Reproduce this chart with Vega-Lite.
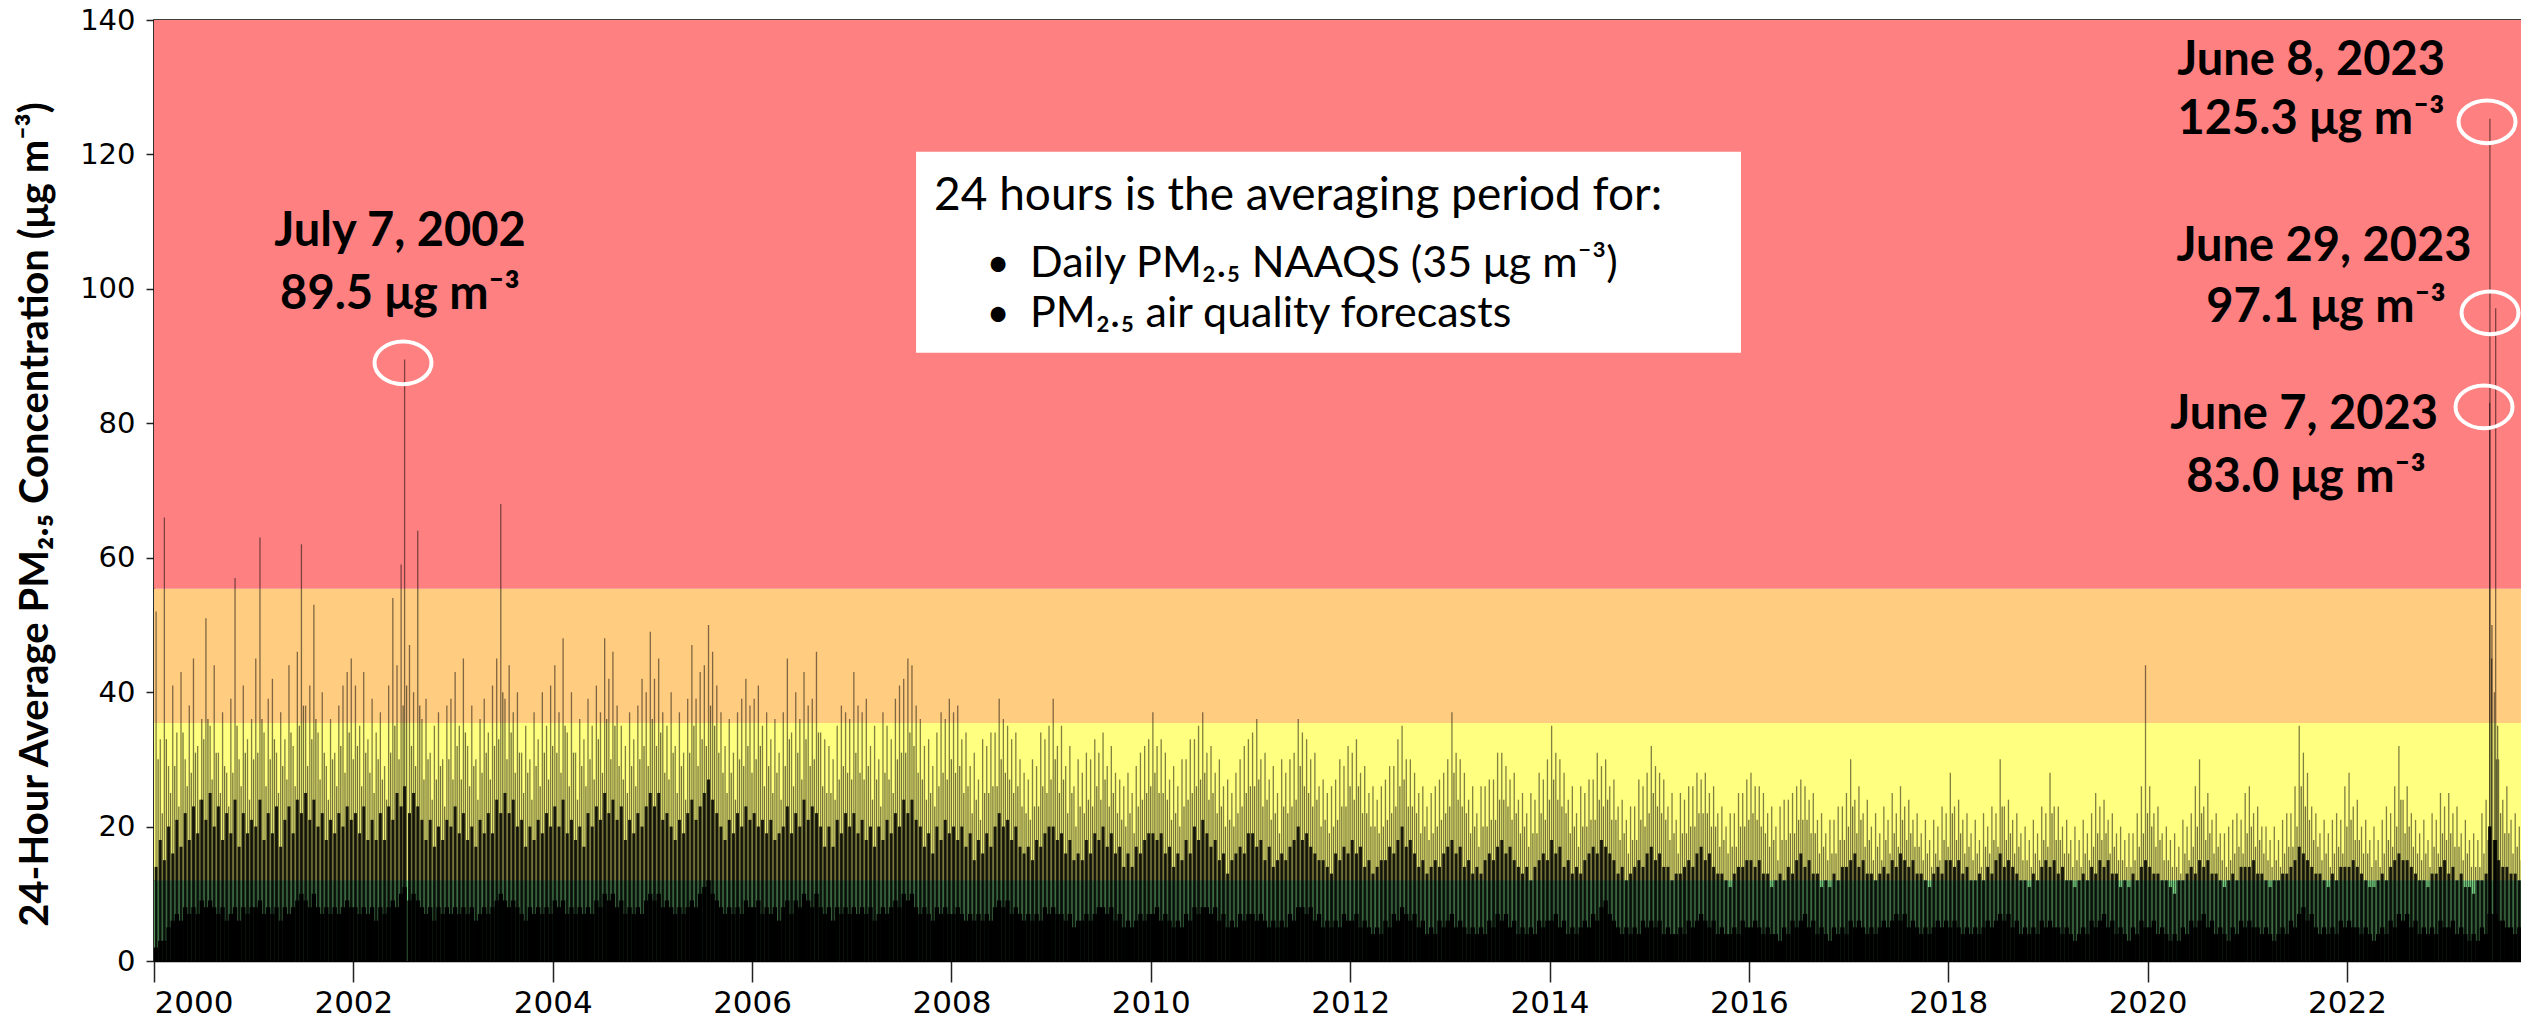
{
  "$schema": "https://vega.github.io/schema/vega-lite/v6.json",
  "width": 2369,
  "height": 941,
  "autosize": "none",
  "padding": {"left": 154, "top": 20, "right": 0, "bottom": 64},
  "background": "white",
  "config": {
    "view": {"stroke": "black", "strokeWidth": 1.5},
    "axisX": {"grid": false, "ticks": true, "tickSize": 21, "tickWidth": 1.5, "tickColor": "#222", "domainColor": "black", "domainWidth": 1.5,
      "labelFont": "DejaVu Sans", "labelFontSize": 31, "labelColor": "black", "labelPadding": 6, "labelBaseline": "top"},
    "axisY": {"grid": false, "ticks": true, "tickSize": 8, "tickWidth": 1.5, "tickColor": "#222", "domainColor": "black", "domainWidth": 1.5,
      "labelFont": "DejaVu Sans", "labelFontSize": 29, "labelColor": "black", "labelPadding": 11,
      "titleFont": "Lato", "titleFontWeight": "bold", "titleFontSize": 40, "titleColor": "black"}
  },
  "datasets": {
    "bands": [
      {"cat": "Good", "lo": 0, "hi": 12},
      {"cat": "Moderate", "lo": 12, "hi": 35.4},
      {"cat": "USG", "lo": 35.4, "hi": 55.4},
      {"cat": "Unhealthy", "lo": 55.4, "hi": 140}
    ],
    "pm": [
{"t":2000.021,"l":2,"m":14,"g":30,"h":52},{"t":2000.063,"l":3,"m":18,"g":22,"h":33},{"t":2000.104,"l":3,"m":15,"g":33,"h":66},{"t":2000.146,"l":5,"m":20,"g":25,"h":29},{"t":2000.188,"l":6,"m":16,"g":29,"h":41},{"t":2000.229,"l":7,"m":21,"g":23,"h":34},{"t":2000.271,"l":6,"m":17,"g":34,"h":43},{"t":2000.313,"l":8,"m":22,"g":26,"h":30},{"t":2000.354,"l":7,"m":18,"g":28,"h":38},{"t":2000.396,"l":8,"m":23,"g":31,"h":45},{"t":2000.438,"l":7,"m":19,"g":24,"h":32},{"t":2000.479,"l":9,"m":24,"g":33,"h":36},{"t":2000.521,"l":8,"m":21,"g":36,"h":51},{"t":2000.563,"l":9,"m":25,"g":27,"h":35},{"t":2000.604,"l":8,"m":20,"g":31,"h":44},{"t":2000.646,"l":7,"m":23,"g":25,"h":31},{"t":2000.688,"l":8,"m":18,"g":29,"h":37},{"t":2000.729,"l":6,"m":22,"g":23,"h":28},{"t":2000.771,"l":7,"m":19,"g":28,"h":39},{"t":2000.813,"l":8,"m":24,"g":35,"h":57},{"t":2000.854,"l":6,"m":17,"g":26,"h":30},{"t":2000.896,"l":8,"m":22,"g":31,"h":41},{"t":2000.938,"l":7,"m":19,"g":24,"h":33},{"t":2000.979,"l":8,"m":21,"g":30,"h":36},
{"t":2001.021,"l":8,"m":20,"g":31,"h":45},{"t":2001.063,"l":9,"m":24,"g":36,"h":63},{"t":2001.104,"l":7,"m":18,"g":26,"h":34},{"t":2001.146,"l":8,"m":22,"g":30,"h":39},{"t":2001.188,"l":7,"m":19,"g":33,"h":42},{"t":2001.229,"l":8,"m":23,"g":25,"h":31},{"t":2001.271,"l":6,"m":17,"g":29,"h":37},{"t":2001.313,"l":8,"m":21,"g":27,"h":33},{"t":2001.354,"l":7,"m":23,"g":34,"h":44},{"t":2001.396,"l":8,"m":19,"g":26,"h":32},{"t":2001.438,"l":9,"m":24,"g":35,"h":46},{"t":2001.479,"l":10,"m":22,"g":38,"h":62},{"t":2001.521,"l":9,"m":25,"g":29,"h":38},{"t":2001.563,"l":8,"m":21,"g":33,"h":41},{"t":2001.604,"l":10,"m":24,"g":36,"h":53},{"t":2001.646,"l":8,"m":20,"g":27,"h":34},{"t":2001.688,"l":7,"m":22,"g":31,"h":40},{"t":2001.729,"l":8,"m":18,"g":24,"h":29},{"t":2001.771,"l":7,"m":21,"g":30,"h":36},{"t":2001.813,"l":8,"m":19,"g":26,"h":31},{"t":2001.854,"l":7,"m":22,"g":32,"h":38},{"t":2001.896,"l":8,"m":20,"g":28,"h":41},{"t":2001.938,"l":9,"m":23,"g":34,"h":43},{"t":2001.979,"l":8,"m":21,"g":30,"h":45},
{"t":2002.021,"l":8,"m":22,"g":32,"h":41},{"t":2002.063,"l":7,"m":19,"g":26,"h":35},{"t":2002.104,"l":8,"m":23,"g":31,"h":43},{"t":2002.146,"l":7,"m":18,"g":28,"h":33},{"t":2002.188,"l":8,"m":21,"g":25,"h":39},{"t":2002.229,"l":6,"m":18,"g":30,"h":34},{"t":2002.271,"l":8,"m":22,"g":27,"h":37},{"t":2002.313,"l":7,"m":18,"g":24,"h":29},{"t":2002.354,"l":8,"m":23,"g":31,"h":41},{"t":2002.396,"l":9,"m":21,"g":35,"h":54},{"t":2002.438,"l":8,"m":25,"g":30,"h":44},{"t":2002.479,"l":10,"m":23,"g":38,"h":59},{"t":2002.514,"l":11,"m":26,"g":41,"h":89.5},{"t":2002.563,"l":9,"m":22,"g":32,"h":47},{"t":2002.604,"l":10,"m":25,"g":29,"h":40},{"t":2002.646,"l":9,"m":23,"g":38,"h":64},{"t":2002.688,"l":8,"m":21,"g":27,"h":36},{"t":2002.729,"l":7,"m":18,"g":30,"h":39},{"t":2002.771,"l":8,"m":21,"g":24,"h":31},{"t":2002.813,"l":6,"m":17,"g":27,"h":35},{"t":2002.854,"l":8,"m":20,"g":29,"h":37},{"t":2002.896,"l":7,"m":18,"g":23,"h":30},{"t":2002.938,"l":8,"m":21,"g":30,"h":38},{"t":2002.979,"l":7,"m":20,"g":27,"h":39},
{"t":2003.021,"l":8,"m":23,"g":32,"h":43},{"t":2003.063,"l":7,"m":19,"g":27,"h":35},{"t":2003.104,"l":8,"m":22,"g":34,"h":45},{"t":2003.146,"l":7,"m":18,"g":26,"h":32},{"t":2003.188,"l":8,"m":20,"g":29,"h":38},{"t":2003.229,"l":6,"m":17,"g":24,"h":30},{"t":2003.271,"l":7,"m":21,"g":28,"h":36},{"t":2003.313,"l":8,"m":19,"g":31,"h":39},{"t":2003.354,"l":7,"m":22,"g":27,"h":34},{"t":2003.396,"l":8,"m":19,"g":32,"h":41},{"t":2003.438,"l":9,"m":24,"g":33,"h":45},{"t":2003.479,"l":10,"m":22,"g":40,"h":68},{"t":2003.521,"l":9,"m":25,"g":30,"h":39},{"t":2003.563,"l":8,"m":22,"g":34,"h":44},{"t":2003.604,"l":9,"m":24,"g":28,"h":37},{"t":2003.646,"l":8,"m":20,"g":31,"h":40},{"t":2003.688,"l":7,"m":21,"g":25,"h":31},{"t":2003.729,"l":6,"m":17,"g":28,"h":35},{"t":2003.771,"l":8,"m":20,"g":24,"h":30},{"t":2003.813,"l":7,"m":18,"g":29,"h":37},{"t":2003.854,"l":8,"m":21,"g":26,"h":33},{"t":2003.896,"l":7,"m":19,"g":31,"h":40},{"t":2003.938,"l":8,"m":22,"g":27,"h":35},{"t":2003.979,"l":7,"m":20,"g":32,"h":41},
{"t":2004.021,"l":9,"m":23,"g":31,"h":44},{"t":2004.063,"l":8,"m":20,"g":28,"h":37},{"t":2004.104,"l":9,"m":24,"g":35,"h":48},{"t":2004.146,"l":7,"m":19,"g":26,"h":34},{"t":2004.188,"l":8,"m":21,"g":31,"h":40},{"t":2004.229,"l":7,"m":18,"g":24,"h":31},{"t":2004.271,"l":8,"m":20,"g":29,"h":36},{"t":2004.313,"l":7,"m":17,"g":26,"h":33},{"t":2004.354,"l":8,"m":22,"g":30,"h":39},{"t":2004.396,"l":7,"m":20,"g":27,"h":35},{"t":2004.438,"l":9,"m":23,"g":33,"h":41},{"t":2004.479,"l":8,"m":21,"g":28,"h":37},{"t":2004.521,"l":10,"m":25,"g":36,"h":48},{"t":2004.563,"l":9,"m":22,"g":30,"h":42},{"t":2004.604,"l":10,"m":24,"g":35,"h":46},{"t":2004.646,"l":8,"m":21,"g":29,"h":38},{"t":2004.688,"l":9,"m":23,"g":27,"h":35},{"t":2004.729,"l":7,"m":18,"g":25,"h":32},{"t":2004.771,"l":8,"m":21,"g":29,"h":37},{"t":2004.813,"l":7,"m":19,"g":26,"h":33},{"t":2004.854,"l":8,"m":22,"g":30,"h":38},{"t":2004.896,"l":7,"m":20,"g":32,"h":42},{"t":2004.938,"l":9,"m":23,"g":29,"h":40},{"t":2004.979,"l":10,"m":25,"g":36,"h":49},
{"t":2005.021,"l":9,"m":23,"g":32,"h":42},{"t":2005.063,"l":10,"m":25,"g":34,"h":45},{"t":2005.104,"l":8,"m":21,"g":28,"h":37},{"t":2005.146,"l":9,"m":22,"g":27,"h":35},{"t":2005.188,"l":8,"m":20,"g":31,"h":40},{"t":2005.229,"l":7,"m":18,"g":25,"h":32},{"t":2005.271,"l":8,"m":21,"g":29,"h":37},{"t":2005.313,"l":7,"m":19,"g":24,"h":31},{"t":2005.354,"l":8,"m":22,"g":31,"h":39},{"t":2005.396,"l":9,"m":24,"g":35,"h":47},{"t":2005.438,"l":8,"m":21,"g":29,"h":39},{"t":2005.479,"l":10,"m":23,"g":33,"h":43},{"t":2005.521,"l":11,"m":25,"g":32,"h":44},{"t":2005.563,"l":12,"m":27,"g":38,"h":50},{"t":2005.604,"l":10,"m":24,"g":35,"h":46},{"t":2005.646,"l":9,"m":22,"g":31,"h":41},{"t":2005.688,"l":8,"m":20,"g":28,"h":37},{"t":2005.729,"l":7,"m":18,"g":25,"h":32},{"t":2005.771,"l":8,"m":21,"g":28,"h":36},{"t":2005.813,"l":7,"m":19,"g":24,"h":31},{"t":2005.854,"l":8,"m":22,"g":30,"h":37},{"t":2005.896,"l":7,"m":20,"g":29,"h":39},{"t":2005.938,"l":9,"m":23,"g":32,"h":42},{"t":2005.979,"l":8,"m":21,"g":28,"h":38},
{"t":2006.021,"l":8,"m":22,"g":30,"h":39},{"t":2006.063,"l":9,"m":20,"g":32,"h":41},{"t":2006.104,"l":7,"m":21,"g":26,"h":35},{"t":2006.146,"l":8,"m":19,"g":29,"h":37},{"t":2006.188,"l":7,"m":21,"g":25,"h":33},{"t":2006.229,"l":8,"m":18,"g":28,"h":36},{"t":2006.271,"l":6,"m":19,"g":24,"h":31},{"t":2006.313,"l":8,"m":20,"g":29,"h":37},{"t":2006.354,"l":9,"m":23,"g":33,"h":45},{"t":2006.396,"l":7,"m":19,"g":26,"h":34},{"t":2006.438,"l":9,"m":22,"g":31,"h":40},{"t":2006.479,"l":8,"m":20,"g":27,"h":36},{"t":2006.521,"l":10,"m":24,"g":33,"h":43},{"t":2006.563,"l":9,"m":21,"g":29,"h":38},{"t":2006.604,"l":8,"m":23,"g":30,"h":39},{"t":2006.646,"l":10,"m":22,"g":34,"h":46},{"t":2006.688,"l":8,"m":20,"g":26,"h":34},{"t":2006.729,"l":7,"m":17,"g":25,"h":33},{"t":2006.771,"l":8,"m":20,"g":25,"h":32},{"t":2006.813,"l":6,"m":17,"g":24,"h":30},{"t":2006.854,"l":8,"m":21,"g":27,"h":35},{"t":2006.896,"l":7,"m":19,"g":29,"h":38},{"t":2006.938,"l":8,"m":22,"g":28,"h":37},{"t":2006.979,"l":7,"m":20,"g":27,"h":36},
{"t":2007.021,"l":8,"m":22,"g":31,"h":43},{"t":2007.063,"l":7,"m":19,"g":28,"h":38},{"t":2007.104,"l":8,"m":21,"g":27,"h":37},{"t":2007.146,"l":7,"m":18,"g":29,"h":39},{"t":2007.188,"l":8,"m":20,"g":24,"h":32},{"t":2007.229,"l":6,"m":17,"g":27,"h":35},{"t":2007.271,"l":7,"m":20,"g":23,"h":30},{"t":2007.313,"l":8,"m":18,"g":28,"h":37},{"t":2007.354,"l":7,"m":21,"g":27,"h":35},{"t":2007.396,"l":8,"m":19,"g":25,"h":33},{"t":2007.438,"l":9,"m":22,"g":30,"h":39},{"t":2007.479,"l":8,"m":20,"g":31,"h":41},{"t":2007.521,"l":10,"m":24,"g":31,"h":42},{"t":2007.563,"l":9,"m":22,"g":34,"h":45},{"t":2007.604,"l":10,"m":24,"g":32,"h":44},{"t":2007.646,"l":8,"m":21,"g":28,"h":38},{"t":2007.688,"l":7,"m":20,"g":27,"h":36},{"t":2007.729,"l":8,"m":17,"g":24,"h":32},{"t":2007.771,"l":7,"m":19,"g":25,"h":33},{"t":2007.813,"l":6,"m":16,"g":23,"h":29},{"t":2007.854,"l":8,"m":20,"g":26,"h":34},{"t":2007.896,"l":7,"m":18,"g":28,"h":37},{"t":2007.938,"l":8,"m":21,"g":27,"h":36},{"t":2007.979,"l":7,"m":19,"g":30,"h":39},
{"t":2008.021,"l":7,"m":20,"g":28,"h":37},{"t":2008.063,"l":8,"m":18,"g":29,"h":38},{"t":2008.104,"l":7,"m":20,"g":25,"h":33},{"t":2008.146,"l":6,"m":17,"g":26,"h":34},{"t":2008.188,"l":7,"m":19,"g":22,"h":29},{"t":2008.229,"l":6,"m":15,"g":24,"h":31},{"t":2008.271,"l":7,"m":18,"g":21,"h":27},{"t":2008.313,"l":6,"m":16,"g":25,"h":33},{"t":2008.354,"l":7,"m":19,"g":25,"h":32},{"t":2008.396,"l":6,"m":17,"g":26,"h":34},{"t":2008.438,"l":8,"m":20,"g":26,"h":34},{"t":2008.479,"l":9,"m":22,"g":30,"h":39},{"t":2008.521,"l":8,"m":20,"g":28,"h":36},{"t":2008.563,"l":9,"m":21,"g":27,"h":35},{"t":2008.604,"l":7,"m":18,"g":25,"h":33},{"t":2008.646,"l":8,"m":20,"g":26,"h":34},{"t":2008.688,"l":7,"m":17,"g":23,"h":30},{"t":2008.729,"l":6,"m":16,"g":22,"h":28},{"t":2008.771,"l":7,"m":17,"g":21,"h":27},{"t":2008.813,"l":6,"m":15,"g":23,"h":30},{"t":2008.854,"l":7,"m":18,"g":23,"h":29},{"t":2008.896,"l":6,"m":17,"g":26,"h":34},{"t":2008.938,"l":8,"m":19,"g":25,"h":33},{"t":2008.979,"l":7,"m":20,"g":27,"h":35},
{"t":2009.021,"l":8,"m":20,"g":30,"h":39},{"t":2009.063,"l":7,"m":18,"g":25,"h":32},{"t":2009.104,"l":7,"m":19,"g":27,"h":35},{"t":2009.146,"l":6,"m":16,"g":22,"h":29},{"t":2009.188,"l":7,"m":18,"g":25,"h":32},{"t":2009.229,"l":5,"m":15,"g":20,"h":26},{"t":2009.271,"l":6,"m":16,"g":23,"h":30},{"t":2009.313,"l":6,"m":15,"g":22,"h":28},{"t":2009.354,"l":7,"m":18,"g":24,"h":31},{"t":2009.396,"l":6,"m":16,"g":23,"h":30},{"t":2009.438,"l":7,"m":19,"g":26,"h":33},{"t":2009.479,"l":8,"m":18,"g":24,"h":31},{"t":2009.521,"l":8,"m":20,"g":27,"h":34},{"t":2009.563,"l":7,"m":17,"g":23,"h":29},{"t":2009.604,"l":8,"m":19,"g":25,"h":32},{"t":2009.646,"l":6,"m":16,"g":22,"h":28},{"t":2009.688,"l":7,"m":17,"g":21,"h":27},{"t":2009.729,"l":5,"m":14,"g":20,"h":26},{"t":2009.771,"l":6,"m":16,"g":22,"h":28},{"t":2009.813,"l":5,"m":14,"g":19,"h":25},{"t":2009.854,"l":6,"m":17,"g":23,"h":29},{"t":2009.896,"l":7,"m":16,"g":24,"h":31},{"t":2009.938,"l":6,"m":18,"g":25,"h":32},{"t":2009.979,"l":7,"m":19,"g":26,"h":33},
{"t":2010.021,"l":7,"m":19,"g":28,"h":37},{"t":2010.063,"l":8,"m":18,"g":25,"h":32},{"t":2010.104,"l":6,"m":19,"g":25,"h":33},{"t":2010.146,"l":7,"m":16,"g":24,"h":31},{"t":2010.188,"l":6,"m":17,"g":21,"h":27},{"t":2010.229,"l":5,"m":14,"g":22,"h":29},{"t":2010.271,"l":6,"m":16,"g":20,"h":26},{"t":2010.313,"l":5,"m":15,"g":23,"h":30},{"t":2010.354,"l":7,"m":18,"g":24,"h":30},{"t":2010.396,"l":6,"m":16,"g":25,"h":33},{"t":2010.438,"l":8,"m":20,"g":26,"h":33},{"t":2010.479,"l":7,"m":18,"g":27,"h":35},{"t":2010.521,"l":8,"m":21,"g":28,"h":37},{"t":2010.563,"l":8,"m":19,"g":24,"h":31},{"t":2010.604,"l":7,"m":17,"g":25,"h":32},{"t":2010.646,"l":8,"m":18,"g":22,"h":28},{"t":2010.688,"l":6,"m":15,"g":23,"h":30},{"t":2010.729,"l":7,"m":16,"g":20,"h":26},{"t":2010.771,"l":5,"m":13,"g":21,"h":27},{"t":2010.813,"l":6,"m":15,"g":20,"h":25},{"t":2010.854,"l":5,"m":16,"g":22,"h":28},{"t":2010.896,"l":7,"m":17,"g":23,"h":30},{"t":2010.938,"l":6,"m":16,"g":25,"h":32},{"t":2010.979,"l":7,"m":19,"g":26,"h":33},
{"t":2011.021,"l":7,"m":19,"g":26,"h":34},{"t":2011.063,"l":6,"m":17,"g":27,"h":36},{"t":2011.104,"l":7,"m":18,"g":23,"h":30},{"t":2011.146,"l":6,"m":15,"g":24,"h":31},{"t":2011.188,"l":5,"m":17,"g":21,"h":27},{"t":2011.229,"l":6,"m":14,"g":22,"h":29},{"t":2011.271,"l":5,"m":15,"g":19,"h":25},{"t":2011.313,"l":6,"m":16,"g":23,"h":30},{"t":2011.354,"l":5,"m":15,"g":22,"h":28},{"t":2011.396,"l":7,"m":17,"g":23,"h":30},{"t":2011.438,"l":6,"m":18,"g":24,"h":31},{"t":2011.479,"l":8,"m":20,"g":29,"h":36},{"t":2011.521,"l":8,"m":18,"g":26,"h":34},{"t":2011.563,"l":7,"m":19,"g":25,"h":33},{"t":2011.604,"l":8,"m":17,"g":23,"h":30},{"t":2011.646,"l":6,"m":16,"g":24,"h":31},{"t":2011.688,"l":7,"m":15,"g":20,"h":26},{"t":2011.729,"l":5,"m":15,"g":21,"h":27},{"t":2011.771,"l":6,"m":14,"g":19,"h":25},{"t":2011.813,"l":5,"m":13,"g":20,"h":26},{"t":2011.854,"l":6,"m":16,"g":21,"h":27},{"t":2011.896,"l":5,"m":15,"g":23,"h":30},{"t":2011.938,"l":7,"m":17,"g":23,"h":29},{"t":2011.979,"l":6,"m":16,"g":26,"h":32},
{"t":2012.021,"l":6,"m":18,"g":24,"h":31},{"t":2012.063,"l":7,"m":16,"g":26,"h":33},{"t":2012.104,"l":5,"m":17,"g":22,"h":28},{"t":2012.146,"l":6,"m":14,"g":22,"h":29},{"t":2012.188,"l":5,"m":15,"g":20,"h":25},{"t":2012.229,"l":4,"m":13,"g":20,"h":26},{"t":2012.271,"l":5,"m":14,"g":19,"h":24},{"t":2012.313,"l":4,"m":15,"g":20,"h":26},{"t":2012.354,"l":6,"m":15,"g":21,"h":27},{"t":2012.396,"l":5,"m":17,"g":22,"h":29},{"t":2012.438,"l":7,"m":16,"g":23,"h":29},{"t":2012.479,"l":6,"m":18,"g":26,"h":33},{"t":2012.521,"l":8,"m":20,"g":27,"h":35},{"t":2012.563,"l":7,"m":17,"g":23,"h":30},{"t":2012.604,"l":6,"m":18,"g":23,"h":30},{"t":2012.646,"l":7,"m":16,"g":22,"h":28},{"t":2012.688,"l":5,"m":14,"g":19,"h":25},{"t":2012.729,"l":6,"m":15,"g":20,"h":26},{"t":2012.771,"l":4,"m":13,"g":18,"h":23},{"t":2012.813,"l":5,"m":14,"g":19,"h":25},{"t":2012.854,"l":4,"m":15,"g":20,"h":26},{"t":2012.896,"l":6,"m":14,"g":21,"h":27},{"t":2012.938,"l":5,"m":16,"g":22,"h":28},{"t":2012.979,"l":6,"m":17,"g":23,"h":30},
{"t":2013.021,"l":7,"m":18,"g":28,"h":37},{"t":2013.063,"l":5,"m":16,"g":24,"h":31},{"t":2013.104,"l":6,"m":17,"g":23,"h":30},{"t":2013.146,"l":5,"m":14,"g":22,"h":28},{"t":2013.188,"l":4,"m":15,"g":19,"h":24},{"t":2013.229,"l":5,"m":13,"g":20,"h":26},{"t":2013.271,"l":4,"m":14,"g":17,"h":22},{"t":2013.313,"l":5,"m":13,"g":20,"h":26},{"t":2013.354,"l":4,"m":15,"g":20,"h":26},{"t":2013.396,"l":6,"m":16,"g":21,"h":27},{"t":2013.438,"l":5,"m":15,"g":21,"h":27},{"t":2013.479,"l":7,"m":17,"g":24,"h":31},{"t":2013.521,"l":6,"m":18,"g":24,"h":31},{"t":2013.563,"l":7,"m":16,"g":23,"h":29},{"t":2013.604,"l":5,"m":17,"g":21,"h":27},{"t":2013.646,"l":6,"m":15,"g":22,"h":28},{"t":2013.688,"l":4,"m":14,"g":19,"h":24},{"t":2013.729,"l":5,"m":13,"g":20,"h":25},{"t":2013.771,"l":4,"m":14,"g":17,"h":22},{"t":2013.813,"l":5,"m":12,"g":19,"h":25},{"t":2013.854,"l":4,"m":14,"g":19,"h":24},{"t":2013.896,"l":6,"m":15,"g":22,"h":28},{"t":2013.938,"l":5,"m":16,"g":21,"h":27},{"t":2013.979,"l":6,"m":15,"g":24,"h":30},
{"t":2014.021,"l":6,"m":18,"g":27,"h":35},{"t":2014.063,"l":7,"m":16,"g":24,"h":31},{"t":2014.104,"l":5,"m":17,"g":23,"h":30},{"t":2014.146,"l":6,"m":14,"g":22,"h":28},{"t":2014.188,"l":4,"m":15,"g":19,"h":24},{"t":2014.229,"l":5,"m":13,"g":20,"h":26},{"t":2014.271,"l":4,"m":14,"g":17,"h":22},{"t":2014.313,"l":5,"m":13,"g":20,"h":26},{"t":2014.354,"l":6,"m":15,"g":20,"h":25},{"t":2014.396,"l":5,"m":16,"g":21,"h":27},{"t":2014.438,"l":7,"m":17,"g":21,"h":27},{"t":2014.479,"l":6,"m":16,"g":24,"h":31},{"t":2014.521,"l":8,"m":18,"g":23,"h":29},{"t":2014.563,"l":9,"m":17,"g":24,"h":30},{"t":2014.604,"l":7,"m":16,"g":21,"h":26},{"t":2014.646,"l":6,"m":15,"g":21,"h":27},{"t":2014.688,"l":5,"m":13,"g":18,"h":23},{"t":2014.729,"l":4,"m":14,"g":19,"h":24},{"t":2014.771,"l":5,"m":12,"g":16,"h":21},{"t":2014.813,"l":4,"m":13,"g":18,"h":23},{"t":2014.854,"l":5,"m":14,"g":18,"h":23},{"t":2014.896,"l":4,"m":15,"g":21,"h":27},{"t":2014.938,"l":6,"m":14,"g":20,"h":26},{"t":2014.979,"l":5,"m":16,"g":22,"h":28},
{"t":2015.021,"l":6,"m":17,"g":25,"h":32},{"t":2015.063,"l":5,"m":15,"g":23,"h":29},{"t":2015.104,"l":6,"m":16,"g":22,"h":28},{"t":2015.146,"l":4,"m":14,"g":21,"h":27},{"t":2015.188,"l":5,"m":14,"g":18,"h":23},{"t":2015.229,"l":4,"m":12,"g":19,"h":25},{"t":2015.271,"l":4,"m":13,"g":16,"h":21},{"t":2015.313,"l":5,"m":13,"g":19,"h":25},{"t":2015.354,"l":4,"m":14,"g":19,"h":24},{"t":2015.396,"l":6,"m":15,"g":20,"h":26},{"t":2015.438,"l":5,"m":14,"g":20,"h":26},{"t":2015.479,"l":6,"m":16,"g":22,"h":28},{"t":2015.521,"l":7,"m":17,"g":22,"h":27},{"t":2015.563,"l":6,"m":15,"g":22,"h":28},{"t":2015.604,"l":5,"m":16,"g":20,"h":25},{"t":2015.646,"l":6,"m":14,"g":20,"h":26},{"t":2015.688,"l":4,"m":13,"g":17,"h":22},{"t":2015.729,"l":5,"m":13,"g":18,"h":23},{"t":2015.771,"l":4,"m":12,"g":16,"h":20},{"t":2015.813,"l":4,"m":11,"g":17,"h":22},{"t":2015.854,"l":5,"m":13,"g":17,"h":22},{"t":2015.896,"l":4,"m":14,"g":20,"h":25},{"t":2015.938,"l":6,"m":14,"g":20,"h":25},{"t":2015.979,"l":5,"m":15,"g":21,"h":27},
{"t":2016.021,"l":5,"m":15,"g":22,"h":28},{"t":2016.063,"l":6,"m":14,"g":21,"h":26},{"t":2016.104,"l":5,"m":15,"g":20,"h":26},{"t":2016.146,"l":4,"m":13,"g":19,"h":25},{"t":2016.188,"l":5,"m":13,"g":17,"h":22},{"t":2016.229,"l":4,"m":11,"g":18,"h":23},{"t":2016.271,"l":4,"m":12,"g":15,"h":20},{"t":2016.313,"l":3,"m":13,"g":18,"h":23},{"t":2016.354,"l":5,"m":12,"g":18,"h":24},{"t":2016.396,"l":4,"m":14,"g":19,"h":24},{"t":2016.438,"l":6,"m":13,"g":19,"h":25},{"t":2016.479,"l":5,"m":15,"g":21,"h":26},{"t":2016.521,"l":6,"m":16,"g":21,"h":27},{"t":2016.563,"l":7,"m":14,"g":21,"h":26},{"t":2016.604,"l":5,"m":15,"g":19,"h":24},{"t":2016.646,"l":6,"m":13,"g":19,"h":25},{"t":2016.688,"l":4,"m":13,"g":16,"h":21},{"t":2016.729,"l":5,"m":11,"g":17,"h":22},{"t":2016.771,"l":4,"m":12,"g":15,"h":19},{"t":2016.813,"l":3,"m":11,"g":16,"h":21},{"t":2016.854,"l":5,"m":13,"g":16,"h":21},{"t":2016.896,"l":4,"m":12,"g":18,"h":23},{"t":2016.938,"l":5,"m":14,"g":18,"h":23},{"t":2016.979,"l":4,"m":14,"g":20,"h":25},
{"t":2017.021,"l":6,"m":15,"g":23,"h":30},{"t":2017.063,"l":5,"m":16,"g":19,"h":24},{"t":2017.104,"l":6,"m":14,"g":21,"h":26},{"t":2017.146,"l":5,"m":15,"g":17,"h":22},{"t":2017.188,"l":4,"m":13,"g":18,"h":24},{"t":2017.229,"l":5,"m":13,"g":15,"h":20},{"t":2017.271,"l":4,"m":12,"g":17,"h":22},{"t":2017.313,"l":5,"m":13,"g":15,"h":19},{"t":2017.354,"l":6,"m":14,"g":18,"h":23},{"t":2017.396,"l":5,"m":13,"g":16,"h":21},{"t":2017.438,"l":6,"m":15,"g":19,"h":25},{"t":2017.479,"l":7,"m":14,"g":17,"h":22},{"t":2017.521,"l":6,"m":16,"g":21,"h":26},{"t":2017.563,"l":7,"m":15,"g":18,"h":23},{"t":2017.604,"l":5,"m":14,"g":19,"h":24},{"t":2017.646,"l":6,"m":15,"g":17,"h":21},{"t":2017.688,"l":5,"m":13,"g":17,"h":22},{"t":2017.729,"l":4,"m":13,"g":15,"h":19},{"t":2017.771,"l":5,"m":12,"g":16,"h":21},{"t":2017.813,"l":4,"m":11,"g":14,"h":18},{"t":2017.854,"l":5,"m":13,"g":16,"h":21},{"t":2017.896,"l":6,"m":14,"g":15,"h":20},{"t":2017.938,"l":5,"m":13,"g":18,"h":23},{"t":2017.979,"l":6,"m":15,"g":17,"h":22},
{"t":2018.021,"l":5,"m":15,"g":22,"h":28},{"t":2018.063,"l":6,"m":14,"g":18,"h":23},{"t":2018.104,"l":5,"m":15,"g":19,"h":24},{"t":2018.146,"l":4,"m":13,"g":16,"h":21},{"t":2018.188,"l":5,"m":14,"g":17,"h":22},{"t":2018.229,"l":4,"m":12,"g":15,"h":19},{"t":2018.271,"l":5,"m":12,"g":16,"h":21},{"t":2018.313,"l":4,"m":13,"g":14,"h":18},{"t":2018.354,"l":5,"m":12,"g":17,"h":22},{"t":2018.396,"l":6,"m":14,"g":16,"h":20},{"t":2018.438,"l":5,"m":13,"g":18,"h":23},{"t":2018.479,"l":6,"m":15,"g":17,"h":22},{"t":2018.521,"l":7,"m":16,"g":23,"h":30},{"t":2018.563,"l":6,"m":14,"g":18,"h":23},{"t":2018.604,"l":7,"m":15,"g":19,"h":24},{"t":2018.646,"l":5,"m":14,"g":16,"h":21},{"t":2018.688,"l":6,"m":13,"g":17,"h":22},{"t":2018.729,"l":4,"m":12,"g":15,"h":19},{"t":2018.771,"l":5,"m":12,"g":15,"h":20},{"t":2018.813,"l":4,"m":11,"g":14,"h":18},{"t":2018.854,"l":5,"m":13,"g":16,"h":21},{"t":2018.896,"l":4,"m":12,"g":15,"h":19},{"t":2018.938,"l":6,"m":14,"g":18,"h":23},{"t":2018.979,"l":5,"m":15,"g":17,"h":22},
{"t":2019.021,"l":6,"m":14,"g":22,"h":28},{"t":2019.063,"l":5,"m":15,"g":18,"h":23},{"t":2019.104,"l":5,"m":13,"g":18,"h":23},{"t":2019.146,"l":4,"m":14,"g":16,"h":20},{"t":2019.188,"l":5,"m":12,"g":16,"h":21},{"t":2019.229,"l":4,"m":12,"g":14,"h":18},{"t":2019.271,"l":3,"m":11,"g":15,"h":20},{"t":2019.313,"l":4,"m":12,"g":14,"h":18},{"t":2019.354,"l":5,"m":13,"g":16,"h":21},{"t":2019.396,"l":4,"m":12,"g":15,"h":19},{"t":2019.438,"l":6,"m":14,"g":17,"h":22},{"t":2019.479,"l":5,"m":13,"g":19,"h":25},{"t":2019.521,"l":6,"m":15,"g":18,"h":23},{"t":2019.563,"l":7,"m":14,"g":19,"h":24},{"t":2019.604,"l":5,"m":15,"g":16,"h":21},{"t":2019.646,"l":6,"m":13,"g":17,"h":22},{"t":2019.688,"l":4,"m":13,"g":15,"h":19},{"t":2019.729,"l":5,"m":11,"g":15,"h":20},{"t":2019.771,"l":4,"m":12,"g":14,"h":18},{"t":2019.813,"l":3,"m":11,"g":14,"h":19},{"t":2019.854,"l":5,"m":13,"g":15,"h":19},{"t":2019.896,"l":4,"m":12,"g":17,"h":22},{"t":2019.938,"l":6,"m":14,"g":19,"h":26},{"t":2019.979,"l":5,"m":15,"g":22,"h":44},
{"t":2020.021,"l":5,"m":14,"g":20,"h":26},{"t":2020.063,"l":6,"m":13,"g":17,"h":22},{"t":2020.104,"l":4,"m":13,"g":18,"h":23},{"t":2020.146,"l":5,"m":12,"g":15,"h":19},{"t":2020.188,"l":4,"m":12,"g":15,"h":20},{"t":2020.229,"l":3,"m":11,"g":14,"h":18},{"t":2020.271,"l":4,"m":10,"g":14,"h":19},{"t":2020.313,"l":3,"m":12,"g":13,"h":17},{"t":2020.354,"l":5,"m":12,"g":16,"h":21},{"t":2020.396,"l":4,"m":13,"g":15,"h":20},{"t":2020.438,"l":6,"m":14,"g":17,"h":22},{"t":2020.479,"l":5,"m":13,"g":20,"h":26},{"t":2020.521,"l":6,"m":15,"g":22,"h":30},{"t":2020.563,"l":7,"m":14,"g":18,"h":23},{"t":2020.604,"l":5,"m":15,"g":19,"h":25},{"t":2020.646,"l":6,"m":13,"g":16,"h":21},{"t":2020.688,"l":4,"m":13,"g":17,"h":22},{"t":2020.729,"l":5,"m":12,"g":15,"h":19},{"t":2020.771,"l":4,"m":11,"g":14,"h":19},{"t":2020.813,"l":3,"m":12,"g":15,"h":20},{"t":2020.854,"l":5,"m":13,"g":16,"h":21},{"t":2020.896,"l":4,"m":12,"g":17,"h":22},{"t":2020.938,"l":6,"m":14,"g":16,"h":21},{"t":2020.979,"l":5,"m":14,"g":19,"h":25},
{"t":2021.021,"l":6,"m":14,"g":20,"h":26},{"t":2021.063,"l":5,"m":15,"g":17,"h":22},{"t":2021.104,"l":5,"m":13,"g":18,"h":23},{"t":2021.146,"l":4,"m":13,"g":16,"h":20},{"t":2021.188,"l":5,"m":12,"g":15,"h":20},{"t":2021.229,"l":4,"m":11,"g":14,"h":18},{"t":2021.271,"l":3,"m":12,"g":15,"h":20},{"t":2021.313,"l":4,"m":12,"g":14,"h":18},{"t":2021.354,"l":5,"m":13,"g":16,"h":21},{"t":2021.396,"l":4,"m":13,"g":17,"h":22},{"t":2021.438,"l":6,"m":14,"g":17,"h":22},{"t":2021.479,"l":5,"m":15,"g":20,"h":26},{"t":2021.521,"l":7,"m":17,"g":26,"h":35},{"t":2021.563,"l":8,"m":16,"g":23,"h":31},{"t":2021.604,"l":6,"m":15,"g":21,"h":28},{"t":2021.646,"l":7,"m":14,"g":18,"h":23},{"t":2021.688,"l":5,"m":13,"g":17,"h":22},{"t":2021.729,"l":4,"m":13,"g":15,"h":19},{"t":2021.771,"l":5,"m":12,"g":16,"h":21},{"t":2021.813,"l":4,"m":11,"g":14,"h":19},{"t":2021.854,"l":5,"m":13,"g":16,"h":21},{"t":2021.896,"l":4,"m":12,"g":17,"h":22},{"t":2021.938,"l":6,"m":14,"g":16,"h":21},{"t":2021.979,"l":5,"m":14,"g":20,"h":26},
{"t":2022.021,"l":6,"m":14,"g":21,"h":28},{"t":2022.063,"l":5,"m":15,"g":18,"h":23},{"t":2022.104,"l":5,"m":14,"g":18,"h":24},{"t":2022.146,"l":4,"m":13,"g":16,"h":20},{"t":2022.188,"l":5,"m":12,"g":16,"h":21},{"t":2022.229,"l":4,"m":11,"g":14,"h":18},{"t":2022.271,"l":3,"m":11,"g":15,"h":20},{"t":2022.313,"l":4,"m":12,"g":14,"h":18},{"t":2022.354,"l":5,"m":13,"g":16,"h":21},{"t":2022.396,"l":4,"m":12,"g":18,"h":23},{"t":2022.438,"l":6,"m":14,"g":17,"h":22},{"t":2022.479,"l":5,"m":15,"g":20,"h":26},{"t":2022.521,"l":7,"m":16,"g":24,"h":32},{"t":2022.563,"l":6,"m":15,"g":19,"h":24},{"t":2022.604,"l":7,"m":15,"g":20,"h":26},{"t":2022.646,"l":5,"m":14,"g":17,"h":22},{"t":2022.688,"l":6,"m":13,"g":16,"h":21},{"t":2022.729,"l":4,"m":12,"g":15,"h":19},{"t":2022.771,"l":5,"m":12,"g":16,"h":21},{"t":2022.813,"l":4,"m":11,"g":14,"h":18},{"t":2022.854,"l":5,"m":13,"g":17,"h":22},{"t":2022.896,"l":4,"m":13,"g":16,"h":21},{"t":2022.938,"l":6,"m":14,"g":19,"h":25},{"t":2022.979,"l":5,"m":15,"g":18,"h":23},
{"t":2023.021,"l":5,"m":13,"g":19,"h":25},{"t":2023.063,"l":6,"m":14,"g":17,"h":22},{"t":2023.104,"l":4,"m":12,"g":17,"h":23},{"t":2023.146,"l":5,"m":13,"g":15,"h":19},{"t":2023.188,"l":4,"m":11,"g":16,"h":21},{"t":2023.229,"l":3,"m":11,"g":14,"h":18},{"t":2023.271,"l":4,"m":10,"g":14,"h":19},{"t":2023.313,"l":3,"m":12,"g":14,"h":18},{"t":2023.354,"l":5,"m":12,"g":16,"h":22},{"t":2023.396,"l":4,"m":13,"g":18,"h":24},{"t":2023.4315,"l":7,"m":20,"g":45,"h":83.0},{"t":2023.4342,"l":7,"m":20,"g":50,"h":125.3},{"t":2023.479,"l":7,"m":18,"g":30,"h":40},{"t":2023.4918,"l":7,"m":18,"g":35,"h":97.1},{"t":2023.521,"l":6,"m":15,"g":22,"h":30},{"t":2023.563,"l":6,"m":14,"g":19,"h":24},{"t":2023.604,"l":5,"m":14,"g":19,"h":26},{"t":2023.646,"l":5,"m":13,"g":16,"h":21},{"t":2023.688,"l":4,"m":13,"g":17,"h":22},{"t":2023.729,"l":5,"m":12,"g":15,"h":20}
    ],
    "circles": [
      {"t": 2002.498, "v": 88.99},
      {"t": 2023.405, "v": 124.85},
      {"t": 2023.435, "v": 96.43},
      {"t": 2023.375, "v": 82.44}
    ]
  },
  "layer": [
    {
      "data": {"name": "bands"},
      "mark": {"type": "rect"},
      "encoding": {
        "x": {"datum": 2000, "type": "quantitative", "scale": {"domain": [2000, 2023.766], "nice": false, "zero": false},
          "axis": {"values": [2000, 2002, 2004, 2006, 2008, 2010, 2012, 2014, 2016, 2018, 2020, 2022], "format": "d", "title": null,
            "ticks": true, "tickSize": 21, "tickWidth": 1.5, "labelPadding": 6, "labelFontSize": 31, "labelFont": "DejaVu Sans", "labelBaseline": "top"}},
        "x2": {"datum": 2023.766},
        "y": {"field": "lo", "type": "quantitative", "scale": {"domain": [0, 140], "nice": false},
          "axis": {"values": [0, 20, 40, 60, 80, 100, 120, 140],
            "title": "24-Hour Average PM₂.₅ Concentration (μg m⁻³)",
            "titleAngle": -90, "titleX": -119, "titleY": 494, "titleAlign": "center", "titleBaseline": "middle"}},
        "y2": {"field": "hi"},
        "color": {"field": "cat", "type": "nominal", "legend": null,
          "scale": {"domain": ["Good", "Moderate", "USG", "Unhealthy"], "range": ["#80E28C", "#FFFF80", "#FFCC80", "#FF8080"]}}
      }
    },
    {
      "data": {"name": "pm"},
      "mark": {"type": "rule", "color": "black", "strokeWidth": 3.0, "opacity": 0.86},
      "encoding": {
        "x": {"field": "t", "type": "quantitative"},
        "y": {"field": "m", "type": "quantitative"},
        "y2": {"datum": 0}
      }
    },
    {
      "data": {"name": "pm"},
      "mark": {"type": "rule", "color": "black", "strokeWidth": 1.3, "opacity": 0.55, "xOffset": 2},
      "encoding": {
        "x": {"field": "t", "type": "quantitative"},
        "y": {"field": "g", "type": "quantitative"},
        "y2": {"datum": 0}
      }
    },
    {
      "data": {"name": "pm"},
      "mark": {"type": "rule", "color": "black", "strokeWidth": 1.3, "opacity": 0.5},
      "encoding": {
        "x": {"field": "t", "type": "quantitative"},
        "y": {"field": "h", "type": "quantitative"},
        "y2": {"datum": 0}
      }
    },
    {
      "data": {"name": "pm"},
      "mark": {"type": "rule", "color": "black", "strokeWidth": 4.3, "opacity": 1},
      "encoding": {
        "x": {"field": "t", "type": "quantitative"},
        "y": {"field": "l", "type": "quantitative"},
        "y2": {"datum": 0}
      }
    },
    {
      "data": {"name": "circles"},
      "mark": {"type": "point", "shape": "M -1 0 A 1 0.75 0 1 0 1 0 A 1 0.75 0 1 0 -1 0 Z", "size": 3249, "filled": false, "stroke": "white", "strokeWidth": 4, "opacity": 1},
      "encoding": {
        "x": {"field": "t", "type": "quantitative"},
        "y": {"field": "v", "type": "quantitative"}
      }
    },
    {
      "data": {"values": [{}]},
      "mark": {"type": "rect", "fill": "white"},
      "encoding": {
        "x": {"datum": 2007.645}, "x2": {"datum": 2015.921},
        "y": {"datum": 120.39}, "y2": {"datum": 90.48}
      }
    },
    {
      "data": {"values": [{}]},
      "mark": {"type": "text", "font": "Lato", "fontSize": 46, "align": "left", "baseline": "alphabetic", "color": "black", "text": "24 hours is the averaging period for:"},
      "encoding": {"x": {"datum": 2007.825}, "y": {"datum": 111.76}}
    },
    {
      "data": {"values": [{}]},
      "mark": {"type": "text", "font": "Lato", "fontSize": 40, "align": "center", "baseline": "alphabetic", "color": "black", "text": "•"},
      "encoding": {"x": {"datum": 2008.467}, "y": {"datum": 101.79}}
    },
    {
      "data": {"values": [{}]},
      "mark": {"type": "text", "font": "Lato", "fontSize": 43, "align": "left", "baseline": "alphabetic", "color": "black", "text": "Daily PM₂.₅ NAAQS (35 μg m⁻³)"},
      "encoding": {"x": {"datum": 2008.788}, "y": {"datum": 101.79}}
    },
    {
      "data": {"values": [{}]},
      "mark": {"type": "text", "font": "Lato", "fontSize": 40, "align": "center", "baseline": "alphabetic", "color": "black", "text": "•"},
      "encoding": {"x": {"datum": 2008.467}, "y": {"datum": 94.35}}
    },
    {
      "data": {"values": [{}]},
      "mark": {"type": "text", "font": "Lato", "fontSize": 43, "align": "left", "baseline": "alphabetic", "color": "black", "text": "PM₂.₅ air quality forecasts"},
      "encoding": {"x": {"datum": 2008.788}, "y": {"datum": 94.35}}
    },
    {
      "data": {"values": [{}]},
      "mark": {"type": "text", "font": "Lato", "fontWeight": "bold", "fontSize": 47, "align": "center", "baseline": "middle", "color": "black", "text": "July 7, 2002"},
      "encoding": {"x": {"datum": 2002.468}, "y": {"datum": 108.5}}
    },
    {
      "data": {"values": [{}]},
      "mark": {"type": "text", "font": "Lato", "fontWeight": "bold", "fontSize": 47, "align": "center", "baseline": "middle", "color": "black", "text": "89.5 μg m⁻³"},
      "encoding": {"x": {"datum": 2002.468}, "y": {"datum": 99.1}}
    },
    {
      "data": {"values": [{}]},
      "mark": {"type": "text", "font": "Lato", "fontWeight": "bold", "fontSize": 47, "align": "center", "baseline": "middle", "color": "black", "text": "June 8, 2023"},
      "encoding": {"x": {"datum": 2021.64}, "y": {"datum": 133.9}}
    },
    {
      "data": {"values": [{}]},
      "mark": {"type": "text", "font": "Lato", "fontWeight": "bold", "fontSize": 47, "align": "center", "baseline": "middle", "color": "black", "text": "125.3 μg m⁻³"},
      "encoding": {"x": {"datum": 2021.64}, "y": {"datum": 125.1}}
    },
    {
      "data": {"values": [{}]},
      "mark": {"type": "text", "font": "Lato", "fontWeight": "bold", "fontSize": 47, "align": "center", "baseline": "middle", "color": "black", "text": "June 29, 2023"},
      "encoding": {"x": {"datum": 2021.77}, "y": {"datum": 106.2}}
    },
    {
      "data": {"values": [{}]},
      "mark": {"type": "text", "font": "Lato", "fontWeight": "bold", "fontSize": 47, "align": "center", "baseline": "middle", "color": "black", "text": "97.1 μg m⁻³"},
      "encoding": {"x": {"datum": 2021.79}, "y": {"datum": 97.2}}
    },
    {
      "data": {"values": [{}]},
      "mark": {"type": "text", "font": "Lato", "fontWeight": "bold", "fontSize": 47, "align": "center", "baseline": "middle", "color": "black", "text": "June 7, 2023"},
      "encoding": {"x": {"datum": 2021.57}, "y": {"datum": 81.25}}
    },
    {
      "data": {"values": [{}]},
      "mark": {"type": "text", "font": "Lato", "fontWeight": "bold", "fontSize": 47, "align": "center", "baseline": "middle", "color": "black", "text": "83.0 μg m⁻³"},
      "encoding": {"x": {"datum": 2021.59}, "y": {"datum": 71.9}}
    }
  ]
}
